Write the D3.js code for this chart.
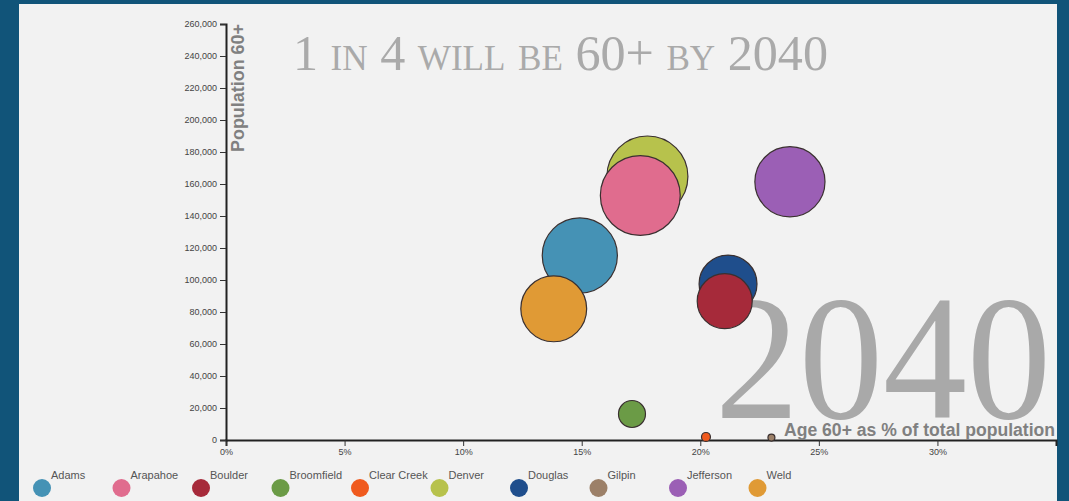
<!DOCTYPE html>
<html>
<head>
<meta charset="utf-8">
<script src="https://cdn.jsdelivr.net/npm/d3@7"></script>
<style>
  html, body { margin: 0; padding: 0; background: #115479; overflow: hidden; }
  svg { display: block; }
</style>
</head>
<body>
<svg id="chart" width="1069" height="501"></svg>
<script>
// ---- data ----
const counties   = ["Adams", "Arapahoe", "Boulder", "Broomfield", "Clear Creek", "Denver", "Douglas", "Gilpin", "Jefferson", "Weld"];
const pctAge60   = [14.92, 17.47, 21.03, 17.12, 20.24, 17.77, 21.17, 23.0, 23.78, 13.82];   // % of total population aged 60+
const pop60      = [115300, 152800, 86750, 16250, 1900, 164700, 97500, 1500, 161400, 82000];
const totalPop   = [775000, 875000, 415000, 100000, 11000, 900000, 460000, 6700, 675000, 595000];
const colors     = ["#4592b5", "#e06c8e", "#a62a3a", "#6b9b46", "#f05a1e", "#b7c24c", "#1f4e8c", "#9c8068", "#9b5fb5", "#e09a35"];
const xTicks     = [0, 5, 10, 15, 20, 25, 30];
const yTicks     = [0, 20000, 40000, 60000, 80000, 100000, 120000, 140000, 160000, 180000, 200000, 220000, 240000, 260000];

const svg = d3.select("#chart");

// panel
svg.append("rect").attr("x", 19).attr("y", 4).attr("width", 1038).attr("height", 497).attr("fill", "#f2f2f2");

const x = d3.scaleLinear().domain([0, 35]).range([226, 1056]);
const y = d3.scaleLinear().domain([0, 260000]).range([440, 24]);
const r = d3.scaleSqrt().domain([0, 900000]).range([0, 40.5]);

// title
svg.append("text")
  .attr("x", 293).attr("y", 70)
  .attr("font-family", "'Liberation Serif', 'DejaVu Serif', serif")
  .attr("font-size", 50)
  .style("font-variant", "small-caps")
  .attr("fill", "#aaaaaa")
  .attr("textLength", 535)
  .attr("lengthAdjust", "spacingAndGlyphs")
  .text("1 in 4 will be 60+ by 2040");

// big year
svg.append("text")
  .attr("x", 1051).attr("y", 418)
  .attr("text-anchor", "end")
  .attr("font-family", "'Liberation Serif', 'DejaVu Serif', serif")
  .attr("font-size", 178)
  .attr("fill", "#a9a9a9")
  .attr("textLength", 336)
  .attr("lengthAdjust", "spacingAndGlyphs")
  .text("2040");

// axes
const xAxis = svg.append("g").attr("transform", "translate(0,440)")
  .call(d3.axisBottom(x).tickValues(xTicks).tickFormat(d => d + "%"));
const yAxis = svg.append("g").attr("transform", "translate(226,0)")
  .call(d3.axisLeft(y).tickValues(yTicks).tickFormat(d3.format(",")));

[xAxis, yAxis].forEach(g => {
  g.select(".domain").attr("stroke", "#222").attr("stroke-width", 2);
  g.selectAll(".tick line").attr("stroke", "#333");
  g.selectAll(".tick text").attr("fill", "#444").attr("font-size", 9).attr("font-family", "'Liberation Sans', Arial, sans-serif");
});

// axis labels
svg.append("text")
  .attr("transform", "translate(244,24) rotate(-90)")
  .attr("text-anchor", "end")
  .attr("font-family", "'Liberation Sans', Arial, sans-serif")
  .attr("font-weight", "bold")
  .attr("font-size", 17.5)
  .attr("fill", "#808080")
  .attr("textLength", 128)
  .attr("lengthAdjust", "spacingAndGlyphs")
  .text("Population 60+");

svg.append("text")
  .attr("x", 1055).attr("y", 436)
  .attr("text-anchor", "end")
  .attr("font-family", "'Liberation Sans', Arial, sans-serif")
  .attr("font-weight", "bold")
  .attr("font-size", 17.5)
  .attr("fill", "#808080")
  .attr("textLength", 271)
  .attr("lengthAdjust", "spacingAndGlyphs")
  .text("Age 60+ as % of total population");

// bubbles (largest first so smaller ones sit on top)
const data = counties.map((c, i) => ({ name: c, pct: pctAge60[i], pop: pop60[i], total: totalPop[i], color: colors[i] }))
  .sort((a, b) => b.total - a.total);

svg.append("g").selectAll("circle").data(data).join("circle")
  .attr("cx", d => x(d.pct))
  .attr("cy", d => y(d.pop))
  .attr("r", d => r(d.total))
  .attr("fill", d => d.color)
  .attr("stroke", "#3a3030")
  .attr("stroke-width", 1.2);

// legend
const legend = svg.append("g").selectAll("g").data(counties).join("g")
  .attr("transform", (d, i) => `translate(${42 + i * 79.5},488)`);
legend.append("circle").attr("r", 9).attr("fill", (d, i) => colors[i]);
legend.append("text")
  .attr("x", 9).attr("y", -9)
  .attr("font-family", "'Liberation Sans', Arial, sans-serif")
  .attr("font-size", 11)
  .attr("fill", "#555")
  .text(d => d);
</script>
</body>
</html>
